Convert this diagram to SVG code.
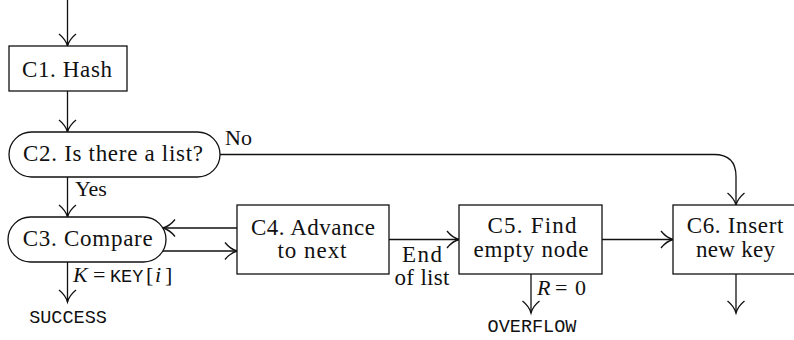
<svg xmlns="http://www.w3.org/2000/svg" width="794" height="340" viewBox="0 0 794 340">
<style>
.box{fill:#fff;stroke:#111;stroke-width:1.3}
.ln{fill:none;stroke:#111;stroke-width:1.3;marker-end:url(#arr)}
.t{font-family:'Liberation Serif','Times New Roman',serif;font-size:23px;fill:#111;text-anchor:middle}
.l{font-family:'Liberation Serif','Times New Roman',serif;font-size:22px;fill:#111}
.it{font-style:italic}
.m{font-family:'Liberation Mono','DejaVu Sans Mono',monospace;font-size:18.5px;fill:#111}
</style>
<defs>
<marker id="arr" markerWidth="24" markerHeight="24" refX="0" refY="0" orient="auto" markerUnits="userSpaceOnUse" overflow="visible">
<path d="M-12,-8.5 C-8,-3.5 -3,-0.8 0,0 C-3,0.8 -8,3.5 -12,8.5" fill="none" stroke="#111" stroke-width="1.3"/>
</marker>
</defs>
<rect width="794" height="340" fill="#fff"/>
<g id="connectors">
<path class="ln" d="M67.5,0 V46"/>
<path class="ln" d="M67.5,91 V132"/>
<path class="ln" d="M67.5,177 V217"/>
<path class="ln" d="M67.5,262 V302"/>
<path class="ln" d="M163,251 H237"/>
<path class="ln" d="M237,228 H163"/>
<path class="ln" d="M389,239.5 H459"/>
<path class="ln" d="M602,239.5 H673"/>
<path class="ln" d="M531,274 V313"/>
<path class="ln" d="M736,274 V313"/>
<path class="ln" d="M220,154.5 H714 Q736,154.5 736,176.5 V205"/>
</g>
<g id="labels">
<text class="l" x="225" y="145" textLength="27">No</text>
<text class="l" x="75" y="196" textLength="31.7">Yes</text>
<text class="l" y="282"><tspan class="it" x="73">K</tspan><tspan x="93">=</tspan><tspan class="m" x="110" font-size="18">KEY</tspan><tspan x="146">[</tspan><tspan class="it" x="155">i</tspan><tspan x="165">]</tspan></text>
<text class="m" x="68" y="323" text-anchor="middle">SUCCESS</text>
<text class="t" x="422" y="261.5" textLength="40" font-size="20.5">End</text>
<text class="t" x="422" y="284.5" textLength="55" font-size="20.5">of list</text>
<text class="l" y="295"><tspan class="it" x="537">R</tspan><tspan x="555">=</tspan><tspan x="575">0</tspan></text>
<text class="m" x="532" y="332" text-anchor="middle">OVERFLOW</text>
</g>
<g id="C1">
<rect class="box" x="9" y="46" width="118" height="45"/>
<text class="t" x="67" y="76.5" textLength="90">C1. Hash</text>
</g>
<g id="C2">
<rect class="box" x="9" y="132" width="211" height="45" rx="22.5"/>
<text class="t" x="113" y="161" textLength="180">C2. Is there a list?</text>
</g>
<g id="C3">
<rect class="box" x="8" y="217" width="158" height="45" rx="22.5"/>
<text class="t" x="87.7" y="246" textLength="130">C3. Compare</text>
</g>
<g id="C4">
<rect class="box" x="237" y="205" width="152" height="69"/>
<text class="t" x="313" y="235" textLength="124">C4. Advance</text>
<text class="t" x="312" y="258" textLength="69">to next</text>
</g>
<g id="C5">
<rect class="box" x="459" y="205" width="143" height="69"/>
<text class="t" x="532" y="233" textLength="89">C5. Find</text>
<text class="t" x="531" y="257" textLength="115">empty node</text>
</g>
<g id="C6">
<rect class="box" x="673" y="205" width="126" height="69"/>
<text class="t" x="735" y="233" textLength="96.7">C6. Insert</text>
<text class="t" x="735.5" y="257" textLength="79">new key</text>
</g>
</svg>
